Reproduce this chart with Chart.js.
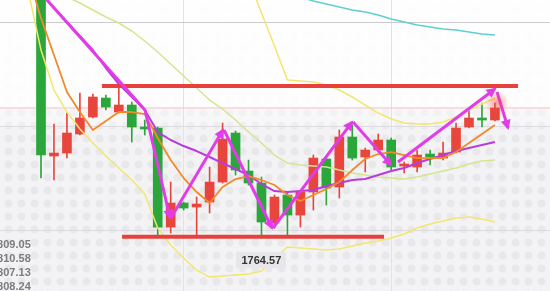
<!DOCTYPE html>
<html>
<head>
<meta charset="utf-8">
<script src="https://cdn.jsdelivr.net/npm/chart.js@4.4.0/dist/chart.umd.min.js"></script>
<style>
html,body{margin:0;padding:0;width:550px;height:291px;overflow:hidden;background:#f4f4f6;}
#wrap{position:relative;width:550px;height:291px;overflow:hidden;
  background-color:#f3f3f5;
  background-image:
    linear-gradient(to bottom, rgba(255,255,255,0.92) 0px, rgba(255,255,255,0.88) 104px, rgba(255,255,255,0.45) 110px, rgba(255,255,255,0.3) 126px, rgba(255,255,255,0) 129px),
    radial-gradient(circle, #e8e8eb 0px, #e8e8eb 3.5px, rgba(232,232,235,0) 4.5px);
  background-size:100% 100%, 13px 13px;
  background-position:0 0, 2px 2px;
}
canvas{position:absolute;left:0;top:0;}
.ohlc{position:absolute;left:-9px;font:bold 11px "Liberation Sans",Arial,sans-serif;color:#7c7c80;line-height:14px;white-space:nowrap;}
#lowLabel{position:absolute;background:#e7e7ea;color:#333;font:bold 11px "Liberation Sans",Arial,sans-serif;line-height:16px;height:16px;padding:0 5px;white-space:nowrap;}
</style>
</head>
<body>
<div id="wrap">
  <canvas id="c" width="550" height="291"></canvas>
  <div class="ohlc" style="top:237px">1809.05</div>
  <div class="ohlc" style="top:251px">1810.58</div>
  <div class="ohlc" style="top:265px">1807.13</div>
  <div class="ohlc" style="top:279px">1808.24</div>
  <div id="lowLabel">1764.57</div>
</div>
<script>
// ---------- data ----------
const candleIdx = [0,1,2,3,4,5,6,7,8,9,10,11,12,13,14,15,16,17,18,19,20,21,22,23,24,25,26,27,28,29,30,31,32,33,34,35];
const opens  = [1851.22,1792.12,1793.12,1799.50,1805.21,1811.59,1806.89,1809.24,1801.85,1801.52,1768.27,1776.33,1774.99,1776.67,1783.38,1799.84,1787.08,1783.05,1769.62,1779.02,1772.30,1780.03,1791.11,1781.71,1798.50,1791.78,1794.13,1797.49,1788.76,1788.42,1792.79,1791.44,1793.46,1801.85,1804.88,1804.20];
const highs  = [1854.57,1802.86,1806.55,1813.27,1812.93,1812.60,1815.29,1810.25,1804.20,1801.85,1783.38,1776.67,1778.35,1788.42,1803.20,1800.51,1790.77,1785.06,1779.02,1779.69,1780.70,1792.45,1791.78,1800.85,1802.52,1794.80,1799.50,1798.16,1790.10,1794.13,1794.13,1796.82,1803.20,1807.90,1809.91,1809.91];
const lows   = [1784.73,1784.06,1791.44,1799.17,1804.88,1807.56,1806.55,1796.82,1799.17,1764.92,1766.26,1773.98,1764.92,1772.97,1783.05,1785.73,1782.38,1764.57,1767.94,1765.59,1768.27,1773.98,1775.66,1778.01,1790.77,1786.74,1793.46,1787.41,1786.41,1786.74,1789.09,1790.77,1793.12,1801.52,1801.85,1803.87];
const closes = [1792.45,1793.12,1799.84,1804.88,1811.93,1808.57,1809.24,1801.85,1801.18,1768.27,1776.33,1774.65,1776.00,1783.38,1797.82,1787.41,1783.05,1769.95,1778.35,1772.30,1780.03,1791.44,1781.37,1798.50,1791.44,1794.13,1797.49,1788.42,1789.43,1792.45,1791.78,1793.12,1801.52,1804.88,1804.20,1808.24];

const lineIdx = [-1,0,1,2,3,4,5,6,7,8,9,10,11,12,13,14,15,16,17,18,19,20,21,22,23,24,25,26,27,28,29,30,31,32,33,34,35];
const ma5   = [1852.90,1838.46,1826.03,1813.61,1806.89,1800.85,1803.87,1806.89,1806.89,1806.22,1798.16,1790.77,1784.73,1780.03,1776.33,1781.71,1784.39,1785.40,1784.06,1782.38,1779.02,1777.00,1779.02,1781.03,1783.38,1787.41,1791.11,1792.79,1793.46,1792.45,1791.44,1791.44,1791.44,1793.46,1796.48,1799.50,1802.52];
const ma10  = [1851.55,1846.85,1841.81,1837.11,1832.41,1827.71,1821.67,1816.29,1811.93,1807.56,1800.17,1797.49,1795.47,1793.79,1791.78,1789.76,1787.75,1785.73,1782.71,1780.36,1780.03,1780.36,1780.70,1782.04,1783.05,1784.06,1784.39,1785.73,1787.08,1788.09,1789.76,1791.11,1792.45,1793.79,1794.80,1795.81,1796.82];
const ma60  = [null,null,null,null,null,null,null,null,null,null,null,null,null,null,null,null,null,null,null,null,1847.19,1845.51,1844.16,1843.16,1842.15,1841.14,1840.47,1839.46,1838.12,1837.11,1836.11,1835.43,1834.76,1834.43,1833.75,1833.08,1832.75];
const bollUpper = [null,null,null,null,null,null,null,null,null,null,null,null,null,null,null,1874.72,1862.63,1851.55,1840.13,1829.05,1817.64,1817.30,1816.96,1815.96,1814.28,1811.93,1809.24,1806.55,1804.54,1803.20,1802.86,1802.86,1803.53,1805.21,1807.56,1809.58,1811.59];
const bollMid   = [null,null,1847.86,1845.51,1843.49,1841.14,1838.79,1836.78,1834.09,1830.73,1827.04,1823.01,1818.98,1814.95,1810.92,1807.90,1804.20,1800.17,1796.48,1792.45,1789.76,1789.09,1788.76,1788.42,1787.41,1786.41,1785.73,1785.06,1784.73,1784.39,1785.06,1786.07,1787.08,1788.09,1789.43,1790.44,1790.77];
const bollLower = [1847.86,1827.71,1814.28,1806.89,1801.18,1796.48,1792.12,1788.09,1784.06,1779.35,1767.94,1762.23,1757.86,1753.83,1751.48,1751.82,1752.15,1752.49,1753.50,1757.86,1761.56,1761.22,1760.89,1760.56,1760.89,1761.89,1762.90,1763.57,1764.58,1765.92,1767.94,1769.28,1770.29,1771.30,1771.63,1770.96,1769.95];

const lastPrice = 1808.24;
const resistanceLine = [[4.70,1815.62],[36.78,1815.62]];
const supportLine    = [[6.25,1765.00],[26.45,1765.00]];
const arrowPaths = [
  [[0.46,1844.50],[8.02,1807.56],[9.95,1771.30]],
  [[10.02,1771.30],[14.03,1800.85]],
  [[14.11,1800.85],[17.81,1767.94]],
  [[17.89,1767.94],[23.98,1803.53]],
  [[24.06,1803.53],[26.99,1789.09]],
  [[27.53,1790.10],[35.00,1814.61]],
  [[35.16,1813.61],[36.01,1801.52]]
];
const gridX = [3,19,35];
const gridY = [1767,1802,1837];
const xRange = [-3.161, 39.245];
const yRange = [1746.8, 1844.5];

// ---------- build ----------
const isUp = closes.map((c,i)=>c>=opens[i]);
const candleColors = isUp.map(u=>u ? '#e8463d' : '#2aa63a');
const pts = arr => lineIdx.map((x,i)=>({x, y:arr[i]}));
const pairPts = arr => arr.map(p=>({x:p[0], y:p[1]}));

const lineDs = (label, arr, color, width, order) => ({
  type:'line', label, data:pts(arr), borderColor:color, borderWidth:width,
  pointRadius:0, fill:false, tension:0, spanGaps:false, order, borderJoinStyle:'round'
});

const datasets = [
  {type:'line', label:'last', data:[{x:xRange[0],y:lastPrice},{x:xRange[1],y:lastPrice}], borderColor:'#f2c3c3', borderWidth:1, pointRadius:0, order:20},
  {type:'bar', label:'wicks', data:candleIdx.map((x,i)=>({x, y:[lows[i], highs[i]]})), backgroundColor:candleColors, barThickness:1, grouped:false, order:15},
  {type:'bar', label:'bodies', data:candleIdx.map((x,i)=>({x, y:[opens[i], closes[i]]})), backgroundColor:candleColors, barThickness:9, minBarLength:2, grouped:false, order:14},
  lineDs('BOLL-UP', bollUpper, '#f3e66e', 1.5, 8),
  lineDs('BOLL-MID', bollMid, '#d3e68c', 1.5, 8),
  lineDs('BOLL-DN', bollLower, '#f3e66e', 1.5, 8),
  lineDs('MA60', ma60, '#5ecfd0', 1.5, 7),
  lineDs('MA10', ma10, '#b83cdc', 2, 6),
  lineDs('MA5', ma5, '#f28a2a', 1.8, 5),
  {type:'line', label:'res', data:pairPts(resistanceLine), borderColor:'#e8403a', borderWidth:4, pointRadius:0, order:4},
  {type:'line', label:'sup', data:pairPts(supportLine), borderColor:'#e8403a', borderWidth:4, pointRadius:0, order:4},
];
arrowPaths.forEach((p,k)=>datasets.push({type:'line', label:'arrow'+k, data:pairPts(p), borderColor:'#e13ce8', borderWidth:3, pointRadius:0, tension:0, isArrow:true, order:1, borderJoinStyle:'round'}));

const arrowPlugin = {
  id:'arrowHeads',
  afterDatasetsDraw(chart){
    const ctx = chart.ctx;
    // glow on last candle
    const xs = chart.scales.x, ys = chart.scales.y;
    const gx = xs.getPixelForValue(candleIdx[candleIdx.length-1]) + 2;
    const gy = ys.getPixelForValue(highs[highs.length-1]);
    const g = ctx.createRadialGradient(gx, gy, 0, gx, gy, 12);
    g.addColorStop(0,'rgba(240,70,70,0.55)');
    g.addColorStop(1,'rgba(240,70,70,0)');
    ctx.save(); ctx.fillStyle = g; ctx.beginPath(); ctx.arc(gx, gy, 12, 0, Math.PI*2); ctx.fill(); ctx.restore();

    chart.data.datasets.forEach((ds,i)=>{
      if(!ds.isArrow) return;
      const m = chart.getDatasetMeta(i).data;
      const a = m[m.length-2], b = m[m.length-1];
      const ang = Math.atan2(b.y-a.y, b.x-a.x);
      const L = 10, W = 5;
      const tx = b.x + Math.cos(ang)*2, ty = b.y + Math.sin(ang)*2;
      ctx.save();
      ctx.fillStyle = ds.borderColor;
      ctx.beginPath();
      ctx.moveTo(tx, ty);
      ctx.lineTo(tx - L*Math.cos(ang) + W*Math.sin(ang), ty - L*Math.sin(ang) - W*Math.cos(ang));
      ctx.lineTo(tx - L*Math.cos(ang) - W*Math.sin(ang), ty - L*Math.sin(ang) + W*Math.cos(ang));
      ctx.closePath(); ctx.fill();
      ctx.restore();
    });
  },
  afterDraw(chart){
    const lbl = document.getElementById('lowLabel');
    let mi = 0; lows.forEach((v,i)=>{ if(v<lows[mi]) mi=i; });
    const px = chart.scales.x.getPixelForValue(candleIdx[mi]);
    const py = chart.scales.y.getPixelForValue(lows[mi]);
    lbl.textContent = lows[mi].toFixed(2);
    lbl.style.left = (px - lbl.offsetWidth/2) + 'px';
    lbl.style.top = (py + 14) + 'px';
  }
};

new Chart(document.getElementById('c'), {
  type:'bar',
  data:{datasets},
  options:{
    responsive:false, animation:false, events:[],
    layout:{padding:0},
    plugins:{legend:{display:false}, tooltip:{enabled:false}},
    scales:{
      x:{type:'linear', min:xRange[0], max:xRange[1], offset:false,
         ticks:{display:false}, border:{display:false},
         grid:{drawTicks:false, color:'#e2e2e5', lineWidth:1},
         afterBuildTicks(s){ s.ticks = gridX.map(v=>({value:v})); }},
      y:{type:'linear', min:yRange[0], max:yRange[1],
         ticks:{display:false}, border:{display:false},
         grid:{drawTicks:false, color:(c)=> c.tick && c.tick.value===gridY[2] ? '#cbcbcf' : '#dcdce0', lineWidth:1},
         afterBuildTicks(s){ s.ticks = gridY.map(v=>({value:v})); }}
    }
  },
  plugins:[arrowPlugin]
});
</script>
</body>
</html>
